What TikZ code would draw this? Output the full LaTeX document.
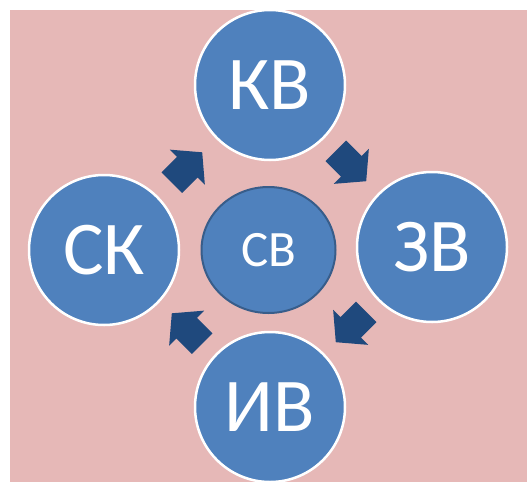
\documentclass[tikz,border=0pt]{standalone}
\usepackage{fontspec}
\setmainfont{Carlito}
\usetikzlibrary{shapes.geometric,calc}
\definecolor{bgpink}{RGB}{230,184,183}
\definecolor{cblue}{RGB}{79,129,189}
\definecolor{cedge}{RGB}{56,93,138}
\definecolor{adark}{RGB}{31,73,125}
\tikzset{
  outer/.style={circle, fill=cblue, draw=white, line width=2.5pt, minimum size=150pt, inner sep=0pt, text=white, font=\fontsize{76}{80}\selectfont},
  inner/.style={ellipse, fill=cblue, draw=cedge, line width=2pt, minimum width=134pt, minimum height=126pt, inner sep=0pt, text=white, font=\fontsize{51}{56}\selectfont},
  blockarrow/.pic={\fill[adark] (-21.5pt,-14.5pt) -- (0.5pt,-14.5pt) -- (0.5pt,-24.75pt) -- (21.5pt,0pt) -- (0.5pt,24.75pt) -- (0.5pt,14.5pt) -- (-21.5pt,14.5pt) -- cycle;}
}
\begin{document}
\begin{tikzpicture}[x=1pt,y=-1pt]
\useasboundingbox (0,0) rectangle (527,482);
\fill[bgpink] (9.5,10) rectangle (527,482);
\node[outer] (kv) at (270,85) {КВ};
\node[outer] (sk) at (104,250) {СК};
\node[outer] (zv) at (432,247) {ЗВ};
\node[outer] (iv) at (270,407) {ИВ};
\node[inner] (sv) at (268.5,250) {СВ};
\path ($(sk)!0.5!(kv)$) pic[rotate=45] {blockarrow};
\path ($(kv)!0.5!(zv)$) pic[rotate=-45] {blockarrow};
\path ($(zv)!0.5!(iv)$) pic[rotate=-135] {blockarrow};
\path ($(iv)!0.5!(sk)$) pic[rotate=135] {blockarrow};
\end{tikzpicture}
\end{document}
